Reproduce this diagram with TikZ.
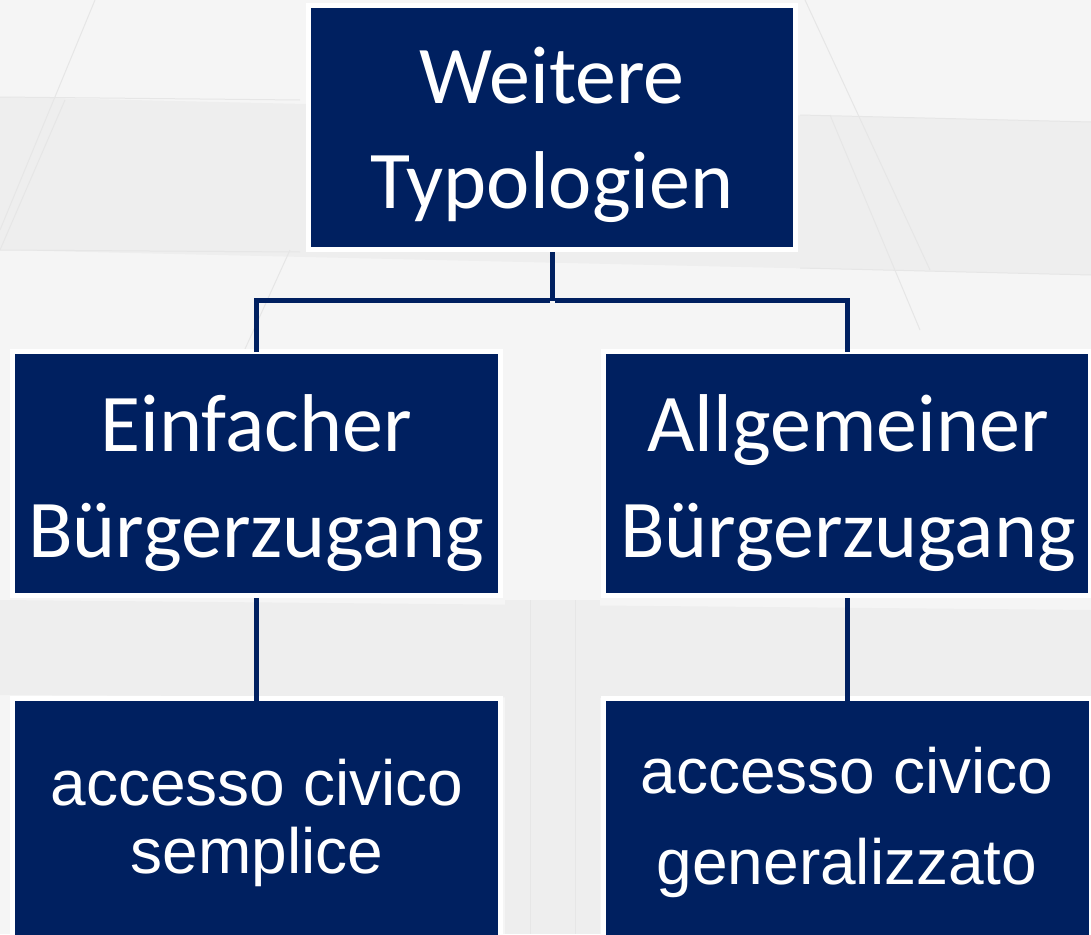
\documentclass[tikz,border=0pt]{standalone}
\usepackage{fontspec}
\newfontfamily\calfont{Carlito}
\newfontfamily\arialfont{Liberation Sans}
\definecolor{navy}{HTML}{002060}
\definecolor{bgbase}{HTML}{F5F5F5}
\definecolor{bgband}{HTML}{EEEEEE}
\definecolor{bgline}{HTML}{E6E6E6}
\begin{document}
\begin{tikzpicture}[x=1pt,y=-1pt,
  box/.style={rectangle, fill=navy, draw=white, line width=5pt, inner sep=0pt, outer sep=0pt},
  conn/.style={draw=navy, line width=5pt, line join=miter, shorten <=2.5pt, shorten >=2.5pt},
  big/.style={text=white, anchor=base, inner sep=0pt, font=\calfont\fontsize{82}{98}\selectfont},
  small/.style={text=white, anchor=base, inner sep=0pt, font=\arialfont\fontsize{64}{76}\selectfont}]
\useasboundingbox (0,0) rectangle (1091,934);
\clip (0,0) rectangle (1091,934);
% background
\fill[bgbase] (0,0) rectangle (1091,934);
\fill[bgband] (0,97) -- (1091,122) -- (1091,275) -- (0,250) -- cycle;
\fill[bgband] (0,600) -- (1091,610) -- (1091,700) -- (0,695) -- cycle;
\fill[bgband] (505,600) rectangle (600,934);
\draw[bgline, line width=1pt] (95,0) -- (0,230);
\draw[bgline, line width=1pt] (65,100) -- (0,250);
\draw[bgline, line width=1pt] (290,250) -- (240,360);
\draw[bgline, line width=1pt] (805,0) -- (930,270);
\draw[bgline, line width=1pt] (830,115) -- (920,330);
\draw[bgline, line width=1pt] (0,97) -- (300,100);
\draw[bgline, line width=1pt] (0,250) -- (300,252);
\draw[bgline, line width=1pt] (800,115) -- (1091,122);
\draw[bgline, line width=1pt] (800,268) -- (1091,275);
\draw[bgline, line width=1pt] (530,600) -- (530,934);
\draw[bgline, line width=1pt] (575,600) -- (575,934);
% boxes
\node[box, minimum width=487pt, minimum height=244pt] (top) at (552,127.5) {};
\node[box, minimum width=488pt, minimum height=244pt] (ml) at (256.5,473.5) {};
\node[box, minimum width=487pt, minimum height=244pt] (mr) at (847,473.5) {};
\node[box, minimum width=488pt, minimum height=300pt] (bl) at (256.5,848.5) {};
\node[box, minimum width=488pt, minimum height=300pt] (br) at (847,848.5) {};
% connectors
\coordinate (j) at (552,300.5);
\draw[conn, shorten >=0pt] (top.south) -- (j);
\draw[conn, shorten >=0pt] (j) -| (ml.north);
\draw[conn, shorten >=0pt] (j) -| (mr.north);
\draw[conn, shorten >=0pt, shorten <=0pt] (ml.south) ++(0,2.5) -- ([yshift=-2.5pt]bl.north);
\draw[conn, shorten >=0pt, shorten <=0pt] (mr.south) ++(0,2.5) -- ([yshift=-2.5pt]br.north);
% texts
\node[big] (t1) at (552,103) {Weitere};
\node[big] (t2) at (552,208) {Typologien};
\node[big] (m1) at (256,451) {Einfacher};
\node[big] (m2) at (256,557) {Bürgerzugang};
\node[big] (r1) at (848,451) {Allgemeiner};
\node[big] (r2) at (848,557) {Bürgerzugang};
\node[small] (b1) at (257,805) {accesso civico};
\node[small] (b2) at (257,873) {semplice};
\node[small] (c1) at (847,793) {accesso civico};
\node[small] (c2) at (847,884) {generalizzato};
\end{tikzpicture}
\end{document}
